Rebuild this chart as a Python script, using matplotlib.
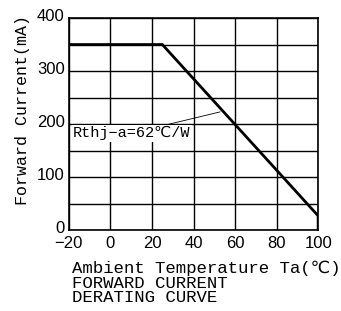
import matplotlib.pyplot as plt
import matplotlib.transforms as mtransforms

# derating curve points (Ta in degC, If in mA)
temps = [-20, 25, 100, 100]
current = [350, 350, 27, 0]

x_ticks = [-20, 0, 20, 40, 60, 80, 100]
y_ticks = [0, 100, 200, 300, 400]
x_grid = [-20, 0, 20, 40, 60, 80, 100]
y_grid = [0, 50, 100, 150, 200, 250, 300, 350, 400]

mono = ['Liberation Mono', 'DejaVu Sans']
sans = ['Liberation Sans', 'DejaVu Sans']

fig = plt.figure(figsize=(3.41, 3.11), dpi=100)
ax = fig.add_axes([0.202, 0.260, 0.731, 0.682])

for gx in x_grid:
    ax.axvline(gx, color='black', lw=1.0, zorder=1)
for gy in y_grid:
    ax.axhline(gy, color='black', lw=1.0, zorder=1)

ax.plot(temps, current, color='black', lw=2.0, zorder=3)

ax.set_xlim(-20, 100)
ax.set_ylim(0, 400)
ax.set_xticks(x_ticks)
ax.set_yticks(y_ticks)
ax.set_xticklabels(['\u221220' if t < 0 else str(t) for t in x_ticks],
                   family=sans, fontsize=12)
ax.set_yticklabels([str(t) for t in y_ticks], family=sans, fontsize=12)
ax.tick_params(length=0, pad=3)
ax.tick_params(axis='x', pad=4)
# nudge the y labels up a little so "0" clears "-20"
shift = mtransforms.ScaledTranslation(0, 3 / 100, fig.dpi_scale_trans)
for lbl in ax.get_yticklabels():
    lbl.set_transform(lbl.get_transform() + shift)
for s in ax.spines.values():
    s.set_color('black')
    s.set_linewidth(1.2)

ax.annotate('Rthj\u2212a=62\u2103/W', xy=(52.8, 223), xytext=(-18, 183),
            family=mono, fontsize=11, ha='left', va='center',
            bbox=dict(facecolor='white', edgecolor='none', pad=1),
            arrowprops=dict(arrowstyle='-', color='black', lw=0.6,
                            shrinkA=0, shrinkB=0),
            zorder=4)

fig.text(0.065, 0.645, 'Forward Current(mA)', rotation=90, ha='center',
         va='center', family=mono, fontsize=12)
fig.text(0.212, 0.138, 'Ambient Temperature Ta(\u2103)', ha='left',
         va='center', family=mono, fontsize=12.5)
fig.text(0.212, 0.09, 'FORWARD CURRENT', ha='left', va='center',
         family=mono, fontsize=12.5)
fig.text(0.212, 0.045, 'DERATING CURVE', ha='left', va='center',
         family=mono, fontsize=12.5)

fig.savefig('out.png', dpi=100)
